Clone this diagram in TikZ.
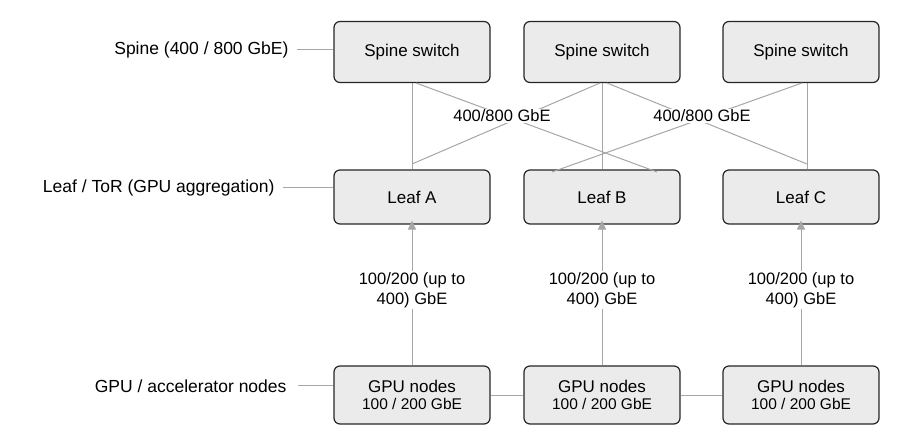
\documentclass[tikz,border=0pt]{standalone}
\usepackage{fontspec}
\setmainfont{Liberation Sans}
\usetikzlibrary{arrows.meta}
\begin{document}
\begin{tikzpicture}[x=1pt,y=-1pt,
 box/.style={draw=black!85,line width=1.2pt,fill=black!8,rounded corners=6pt,font=\fontsize{17}{19}\selectfont,align=center},
 lbl/.style={font=\fontsize{17.5}{19}\selectfont,anchor=east},
 ln/.style={draw=black!35,line width=1pt},
 txt/.style={font=\fontsize{16.5}{20}\selectfont,fill=white,inner sep=1pt,align=center}]
\useasboundingbox (0,0) rectangle (900,446);
\foreach \n/\x in {1/412,2/602,3/801}{
 \node[box,minimum width=156pt,minimum height=61pt] (s\n) at (\x,52) {Spine switch};
}
\node[box,minimum width=156pt,minimum height=54pt] (la) at (412,197) {Leaf A};
\node[box,minimum width=156pt,minimum height=54pt] (lb) at (602,197) {Leaf B};
\node[box,minimum width=156pt,minimum height=54pt] (lc) at (801,197) {Leaf C};
\node[box,minimum width=156pt,minimum height=58pt] (ga) at (412,395) {GPU nodes\\[-2pt]{\fontsize{15.5}{17}\selectfont 100 / 200 GbE}};
\node[box,minimum width=156pt,minimum height=58pt] (gb) at (602,395) {GPU nodes\\[-2pt]{\fontsize{15.5}{17}\selectfont 100 / 200 GbE}};
\node[box,minimum width=156pt,minimum height=58pt] (gc) at (801,395) {GPU nodes\\[-2pt]{\fontsize{15.5}{17}\selectfont 100 / 200 GbE}};
\node[lbl] (ls) at (292,50) {Spine (400 / 800 GbE)};
\node[lbl] (ll) at (278,188) {Leaf / ToR (GPU aggregation)};
\node[lbl] (lg) at (290,386) {GPU / accelerator nodes};
\draw[ln] (ls.east) ++(5,0) -- (s1.west |- ls.east);
\draw[ln] (ll.east) ++(5,0) -- (la.west |- ll.east);
\draw[ln] (lg.east) ++(8,0) -- (ga.west |- lg.east);
% spine-leaf
\coordinate (a1) at (416,83); \coordinate (a2) at (657,172);
\coordinate (b1) at (600,83); \coordinate (b2) at (412,164);
\coordinate (c1) at (607,83); \coordinate (c2) at (807,164);
\coordinate (d1) at (802,83); \coordinate (d2) at (552,172);
\draw[ln] (s1.south) -- (la.north);
\draw[ln] (s2.south) -- (lb.north);
\draw[ln] (s3.south -| c2) -- (lc.north -| c2);
\draw[ln] (a1) -- (a2); \draw[ln] (b1) -- (b2);
\draw[ln] (c1) -- (c2); \draw[ln] (d1) -- (d2);
\node[txt] (t1) at (502,116) {400/800 GbE};
\node[txt] (t2) at (702,116) {400/800 GbE};
% gpu-leaf
\foreach \g/\l in {ga/la,gb/lb,gc/lc}{
 \draw[ln,-{Triangle[length=9pt,width=8pt]}] (\g.north) -- ([yshift=4pt]\l.south);
}
\node[txt] (m1) at (412,290) {100/200 (up to\\400) GbE};
\node[txt] (m2) at (602,290) {100/200 (up to\\400) GbE};
\node[txt] (m3) at (801,290) {100/200 (up to\\400) GbE};
\draw[ln] (ga.east) -- (gb.west);
\draw[ln] (gb.east) -- (gc.west);
\end{tikzpicture}
\end{document}
